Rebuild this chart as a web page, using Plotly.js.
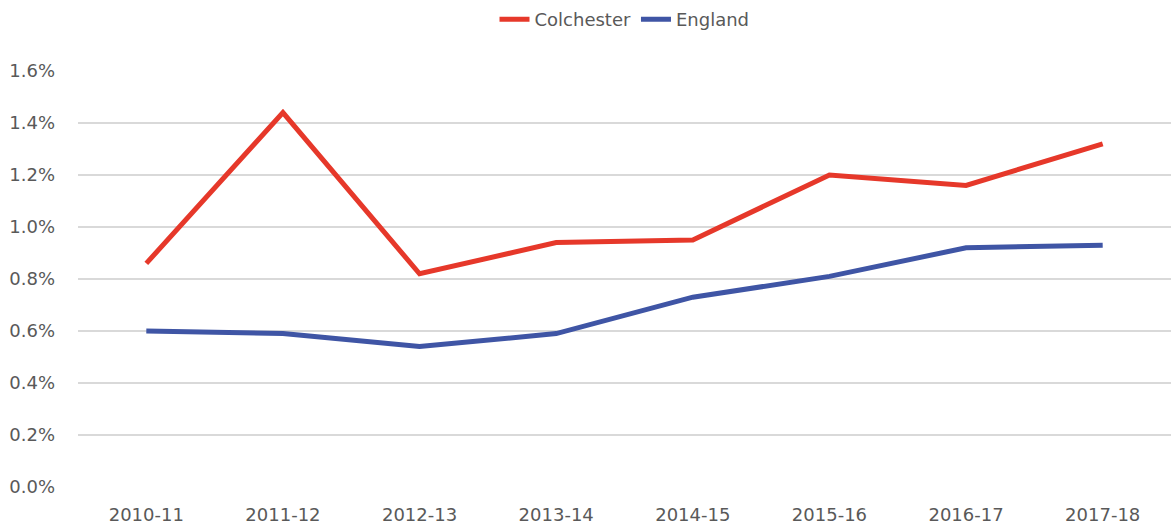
<!DOCTYPE html>
<html>
<head>
<meta charset="utf-8">
<script src="https://cdn.plot.ly/plotly-3.0.1.min.js"></script>
<style>html,body{margin:0;padding:0;background:#fff;}#chart{width:1171px;height:530px;}</style>
</head>
<body>
<div id="chart"></div>
<script>
const years = ["2010-11","2011-12","2012-13","2013-14","2014-15","2015-16","2016-17","2017-18"];
const colchester = [0.86,1.44,0.82,0.94,0.95,1.20,1.16,1.32];
const england = [0.60,0.59,0.54,0.59,0.73,0.81,0.92,0.93];
const yTicks = [0,0.2,0.4,0.6,0.8,1.0,1.2,1.4,1.6];
const yTickText = yTicks.map(v => v.toFixed(1) + "%");

const font = {family: "DejaVu Sans, Liberation Sans, sans-serif", size: 18, color: "#595959"};

const traces = [
  {x: years, y: colchester, name: "Colchester", type: "scatter", mode: "lines",
   line: {color: "#E6382A", width: 5}},
  {x: years, y: england, name: "England", type: "scatter", mode: "lines",
   line: {color: "#3F55A5", width: 5}}
];

const layout = {
  width: 1171, height: 530,
  margin: {l: 78, r: 0, t: 71, b: 43},
  paper_bgcolor: "#fff", plot_bgcolor: "#fff",
  font: font,
  showlegend: true,
  legend: {orientation: "h", x: 0.5, xanchor: "center", xref: "paper", y: 0.998, yref: "container", yanchor: "top",
           font: font, itemwidth: 30},
  xaxis: {type: "category", range: [-0.5, 7.5], showgrid: false, zeroline: false, showline: false,
          ticks: "", tickfont: font, ticklabelstandoff: 15, fixedrange: true},
  yaxis: {range: [0, 1.6], tickvals: yTicks, ticktext: yTickText, showgrid: true, gridcolor: "#D9D9D9",
          gridwidth: 2, zeroline: false, showline: false, ticks: "", tickfont: font, ticklabelstandoff: 22, fixedrange: true}
};

Plotly.newPlot("chart", traces, layout, {displayModeBar: false, staticPlot: true});
</script>
</body>
</html>
